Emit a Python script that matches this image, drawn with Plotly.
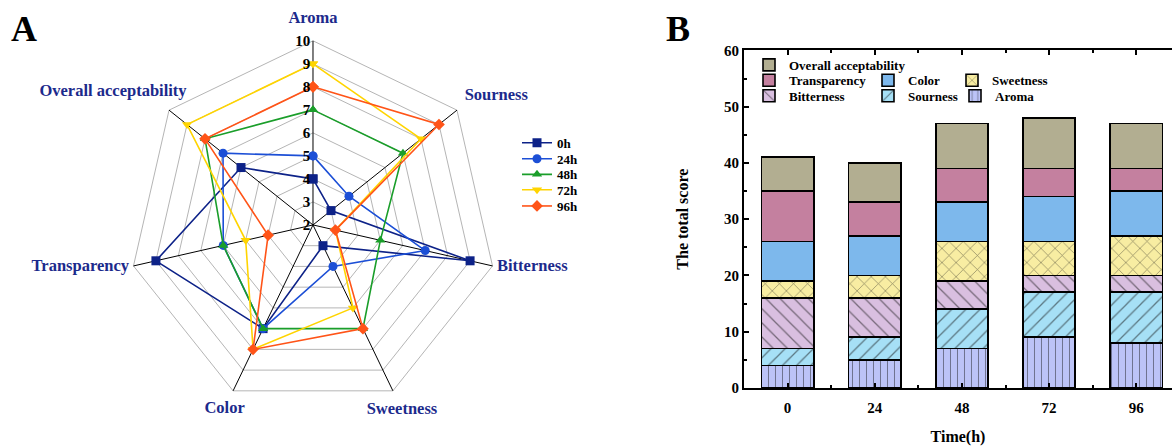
import plotly.graph_objects as go

# ---------------- data ----------------
attributes = ["Aroma", "Sourness", "Bitterness", "Sweetness", "Color",
              "Transparency", "Overall acceptability"]
series_names = ["0h", "24h", "48h", "72h", "96h"]
times = ["0", "24", "48", "72", "96"]

aroma = [4, 5, 7, 9, 8]
sourness = [3, 4, 7, 8, 9]
bitterness = [9, 7, 5, 3, 3]
sweetness = [3, 4, 7, 6, 7]
color = [7, 7, 7, 8, 8]
transparency = [9, 6, 6, 5, 4]
overall = [6, 7, 8, 9, 8]

radial_ticks = [2, 3, 4, 5, 6, 7, 8, 9, 10]
y_ticks = [0, 10, 20, 30, 40, 50, 60]

# ---------------- styles ----------------
SERIF = "Liberation Serif"
NB = "\u00a0"
W, H = 1172, 447
line_colors = ["#0d2288", "#1c4fd6", "#1a9e2a", "#ffd400", "#ff5418"]
marker_symbols = ["square", "circle", "triangle-up", "triangle-down", "diamond"]
radar_legends = ["legend", "legend2", "legend3", "legend4", "legend5"]
radar_legend_rows = [142.7, 159.3, 175.5, 191.5, 208.3]   # px centre of each legend row

# placement of the attribute labels around the radar (radial position, anchor, padding)
label_radius = [10.96, 10.43, 10.2, 10.91, 10.85, 10.2, 11.28]
label_anchor = ["middle center", "top right", "middle right", "middle center",
                "middle center", "middle left", "middle center"]
label_pad = [0, 0, 0, 0, 0, 0, 16]

bar_names = ["Aroma", "Sourness", "Bitterness", "Sweetness", "Color",
             "Transparency", "Overall acceptability"]
bar_values = [aroma, sourness, bitterness, sweetness, color, transparency, overall]
bar_fills = ["#bcc3f7", "#a6e0f6", "#d9bfe0", "#f8eda2", "#7db8ec", "#c4809f", "#b2ae91"]
bar_patterns = ["|", "/", "\\", "x", "", "", ""]
bar_pattern_sizes = [7, 10, 10, 10, 8, 8, 8]
bar_legends = ["legend12", "legend11", "legend10", "legend9", "legend8", "legend7", "legend6"]
# px position (text start x, row centre y) of each bar legend entry
bar_legend_pos = [(995, 94), (908, 94), (789, 94), (992, 78), (908, 78), (789, 78), (789, 62)]

fig = go.Figure()

# ---------------- radar ----------------
r_in, r_out = radial_ticks[0], radial_ticks[-1]
spoke_r, spoke_t = [], []
for a in attributes:
    spoke_r += [r_in, r_out, None]
    spoke_t += [a, a, a]
fig.add_trace(go.Scatterpolar(
    r=spoke_r, theta=spoke_t, mode="lines", line=dict(color="black", width=1),
    showlegend=False, hoverinfo="skip", connectgaps=False,
))

per_series = list(zip(aroma, sourness, bitterness, sweetness, color, transparency, overall))
for i, name in enumerate(series_names):
    r = list(per_series[i]) + [per_series[i][0]]
    theta = attributes + [attributes[0]]
    fig.add_trace(go.Scatterpolar(
        r=r, theta=theta, name=name, mode="lines+markers",
        line=dict(color=line_colors[i], width=1.6),
        marker=dict(symbol=marker_symbols[i], size=9, color=line_colors[i]),
        legend=radar_legends[i], showlegend=True,
    ))

# attribute names around the radar
fig.add_trace(go.Scatterpolar(
    r=label_radius, theta=attributes, mode="text",
    text=[a + NB * p for a, p in zip(attributes, label_pad)],
    textposition=label_anchor, cliponaxis=False, showlegend=False, hoverinfo="skip",
    textfont=dict(family=SERIF, size=16.5, color="#1c2a8c", weight="bold"),
))

# ---------------- stacked bars ----------------
x_idx = list(range(len(times)))
for name, vals, fill, pat, psz, lg in zip(bar_names, bar_values, bar_fills, bar_patterns,
                                          bar_pattern_sizes, bar_legends):
    fig.add_trace(go.Bar(
        x=x_idx, y=vals, name=name, width=0.6, legend=lg, showlegend=True,
        marker=dict(color=fill, line=dict(color="black", width=1.6),
                    pattern=dict(shape=pat, fgcolor="#111111", bgcolor=fill,
                                 size=psz, solidity=0.13)),
        xaxis="x", yaxis="y",
    ))

tick_font = dict(family=SERIF, size=15, color="black", weight="bold")
legend_font = dict(family=SERIF, size=13, color="black", weight="bold")

legends = {}
LEG_OFF = 18.5
for i, lg in enumerate(radar_legends):
    legends[lg] = dict(x=517 / W, y=1 - (radar_legend_rows[i] - LEG_OFF) / H,
                       xanchor="left", yanchor="top", bgcolor="rgba(0,0,0,0)",
                       font=legend_font, itemwidth=30)
for lg, (tx, ty) in zip(bar_legends, bar_legend_pos):
    legends[lg] = dict(x=(tx - 40) / W, y=1 - (ty - LEG_OFF) / H,
                       xanchor="left", yanchor="top", bgcolor="rgba(0,0,0,0)",
                       font=legend_font, itemwidth=30)

# polar square domain around the radar centre; radial range extends past 10
# so that the attribute names can sit outside the outer heptagon
R_MAX = 11.3
PC_X, PC_Y, PHALF = 313, 225, 222

fig.update_layout(
    width=W, height=H,
    margin=dict(l=0, r=0, t=0, b=0),
    paper_bgcolor="white", plot_bgcolor="white",
    showlegend=True,
    barmode="stack",
    polar=dict(
        domain=dict(x=[(PC_X - PHALF) / W, (PC_X + PHALF) / W],
                    y=[max(0, 1 - (PC_Y + PHALF) / H), 1 - (PC_Y - PHALF) / H]),
        gridshape="linear",
        bgcolor="rgba(0,0,0,0)",
        angularaxis=dict(
            rotation=90, direction="clockwise",
            categoryorder="array", categoryarray=attributes,
            showgrid=False, showline=False,
            ticks="", showticklabels=False,
        ),
        radialaxis=dict(
            range=[r_in, R_MAX], autorange=False, tickvals=radial_ticks, angle=90, tickangle=90,
            side="counterclockwise",
            showline=False,
            showgrid=True, gridcolor="#b5b5b5", gridwidth=1,
            ticks="",
            tickfont=tick_font,
        ),
    ),
    xaxis=dict(
        domain=[0.6348, 1.0], range=[-0.5, 4.41],
        tickmode="array", tickvals=x_idx, ticktext=times,
        ticks="inside", ticklen=5, tickwidth=1.5, tickcolor="black",
        ticklabelstandoff=5,
        minor=dict(tickvals=[v + 0.5 for v in x_idx], ticks="inside", ticklen=3,
                   tickwidth=1.5, tickcolor="black"),
        showline=True, linecolor="black", linewidth=2, mirror="ticks",
        showgrid=False, zeroline=False,
        tickfont=tick_font,
        title=dict(text="Time(h)", font=dict(family=SERIF, size=16, color="black", weight="bold"),
                   standoff=16),
    ),
    yaxis=dict(
        domain=[0.1186, 0.9016], range=[0, 60],
        tickmode="array", tickvals=y_ticks,
        ticks="inside", ticklen=5, tickwidth=1.5, tickcolor="black",
        minor=dict(dtick=5, ticks="inside", ticklen=3, tickwidth=1.5, tickcolor="black"),
        showline=True, linecolor="black", linewidth=2,
        showgrid=False, zeroline=False,
        tickfont=tick_font,
        title=dict(text="The total score", font=dict(family=SERIF, size=16, color="black", weight="bold"),
                   standoff=31),
    ),
    annotations=[
        dict(text="A", x=24 / W, y=1 - 22 / H, xref="paper", yref="paper",
             showarrow=False, xanchor="center", yanchor="middle",
             font=dict(family=SERIF, size=36, color="black", weight="bold")),
        dict(text="B", x=678 / W, y=1 - 22 / H, xref="paper", yref="paper",
             showarrow=False, xanchor="center", yanchor="middle",
             font=dict(family=SERIF, size=36, color="black", weight="bold")),
    ],
    **legends,
)

fig.write_html("out.html",
               config={"displayModeBar": False},
               post_script="document.body.style.margin='0';document.body.style.overflow='hidden';")
